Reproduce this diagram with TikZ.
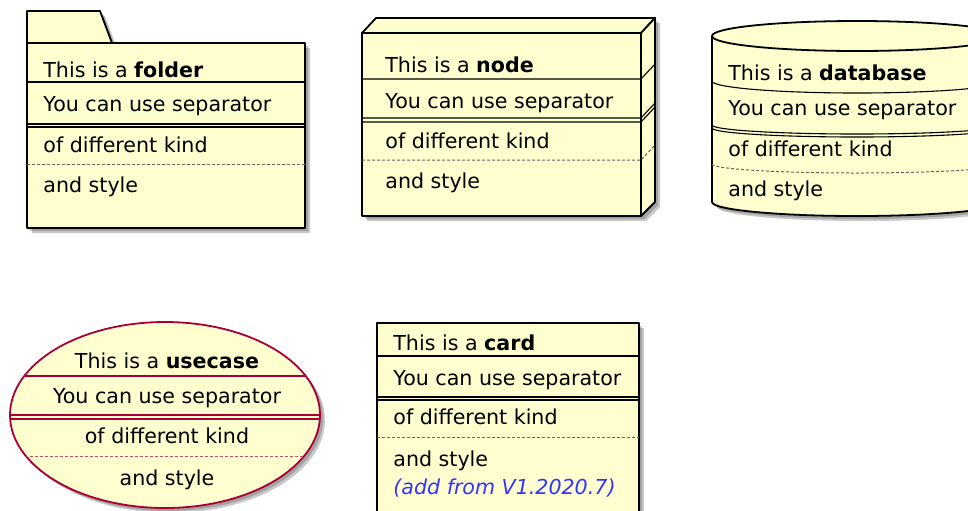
\documentclass[tikz,border=0pt]{standalone}
\usepackage{fontspec}
\setmainfont{DejaVu Sans}
\definecolor{umlfill}{HTML}{FEFECE}
\definecolor{umlred}{HTML}{A80036}
\definecolor{umlblue}{HTML}{3333FF}
\definecolor{umlshade}{HTML}{4A4A4A}

\tikzset{
  umlbody/.style={draw=black,fill=umlfill,line width=0.9pt,line join=round},
  umlshadow/.style={fill=umlshade,opacity=0.3,draw=none},
  sepline/.style={line width=0.55pt},
  dotline/.style={line width=0.5pt,dash pattern=on 1.5pt off 1pt,draw=black!60},
  txt/.style={anchor=base west,inner sep=0pt,font=\fontsize{10.3}{12}\selectfont},
  ctxt/.style={txt,anchor=base},
}

\begin{document}
\begin{tikzpicture}[x=0.5pt,y=-0.5pt]
\useasboundingbox (0,0) rectangle (968,510);
\clip (0,0) rectangle (968,510);

% folder
\foreach \d in {3,5}
  \fill[umlshadow,shift={(\d,\d)}] (27,11) -- (100,11) -- (112,43) -- (305,43) -- (305,228) -- (27,228) -- cycle;
\path[umlbody] (27,11) -- (100,11) -- (112,43) -- (305,43) -- (305,228) -- (27,228) -- cycle;
\draw[line width=0.9pt] (27,43) -- (112,43);
\draw[sepline] (27,82) -- (305,82);
\draw[sepline] (27,124) -- (305,124) (27,127) -- (305,127);
\draw[dotline] (27,164) -- (305,164);
\node[txt] (fold1) at (43,77) {This is a \textbf{folder}};
\node[txt] (fold2) at (43,111) {You can use separator};
\node[txt] (fold3) at (43,152) {of different kind};
\node[txt] (fold4) at (43,192) {and style};

% node
\foreach \d in {3,5}
  \fill[umlshadow,shift={(\d,\d)}] (362,33) -- (376,18) -- (655,18) -- (655,202) -- (641,216) -- (362,216) -- cycle;
\path[umlbody] (362,33) rectangle (641,216);
\path[umlbody] (362,33) -- (376,18) -- (655,18) -- (641,33) -- cycle;
\path[umlbody] (641,33) -- (655,18) -- (655,202) -- (641,216) -- cycle;
\draw[sepline] (362,79) -- (641,79) -- (655,64);
\draw[sepline] (362,118) -- (641,118) -- (655,103) (362,122) -- (641,122) -- (655,107);
\draw[dotline] (362,160) -- (641,160) -- (655,145);
\node[txt] (node1) at (385,72) {This is a \textbf{node}};
\node[txt] (node2) at (385,108) {You can use separator};
\node[txt] (node3) at (385,148) {of different kind};
\node[txt] (node4) at (385,188) {and style};

% database
\foreach \d in {3,5}
  \fill[umlshadow,shift={(\d,\d)}] (712,36) arc[start angle=180,end angle=360,x radius=145,y radius=15]
    -- (1002,202) arc[start angle=0,end angle=180,x radius=145,y radius=14] -- cycle;
\path[umlbody] (712,36) arc[start angle=180,end angle=360,x radius=145,y radius=15]
  -- (1002,202) arc[start angle=0,end angle=180,x radius=145,y radius=14] -- cycle;
\draw[line width=0.9pt] (712,36) arc[start angle=180,end angle=0,x radius=145,y radius=15];
\draw[sepline] (712,81) arc[start angle=180,end angle=0,x radius=145,y radius=12];
\draw[sepline] (712,125) arc[start angle=180,end angle=0,x radius=145,y radius=9]
  (712,128) arc[start angle=180,end angle=0,x radius=145,y radius=9];
\draw[dotline] (712,164) arc[start angle=180,end angle=0,x radius=145,y radius=9];
\node[txt] (db1) at (728,80) {This is a \textbf{database}};
\node[txt] (db2) at (728,115) {You can use separator};
\node[txt] (db3) at (728,156) {of different kind};
\node[txt] (db4) at (728,196) {and style};

% usecase
\foreach \d in {3,5}
  \fill[umlshadow,shift={(\d,\d)}] (165,415) ellipse[x radius=155,y radius=93];
\path[umlbody,draw=umlred] (165,415) ellipse[x radius=155,y radius=93];
\begin{scope}
\clip (165,415) ellipse[x radius=155,y radius=93];
\draw[sepline,umlred] (0,376) -- (330,376);
\draw[sepline,umlred] (0,415) -- (330,415) (0,419) -- (330,419);
\draw[dotline,draw=umlred!70] (0,456) -- (330,456);
\end{scope}
\node[ctxt] (uc1) at (167,368) {This is a \textbf{usecase}};
\node[ctxt] (uc2) at (167,403) {You can use separator};
\node[ctxt] (uc3) at (167,443) {of different kind};
\node[ctxt] (uc4) at (167,485) {and style};

% card
\foreach \d in {3,5}
  \fill[umlshadow,shift={(\d,\d)}] (377,323) rectangle (639,540);
\path[umlbody] (377,323) rectangle (639,540);
\draw[sepline] (377,356) -- (639,356);
\draw[sepline] (377,397) -- (639,397) (377,400) -- (639,400);
\draw[dotline] (377,437) -- (639,437);
\node[txt] (card1) at (393,350) {This is a \textbf{card}};
\node[txt] (card2) at (393,385) {You can use separator};
\node[txt] (card3) at (393,424) {of different kind};
\node[txt] (card4) at (393,466) {and style};
\node[txt,text=umlblue] (card5) at (393,494) {\itshape (add from V1.2020.7)};
\end{tikzpicture}
\end{document}
